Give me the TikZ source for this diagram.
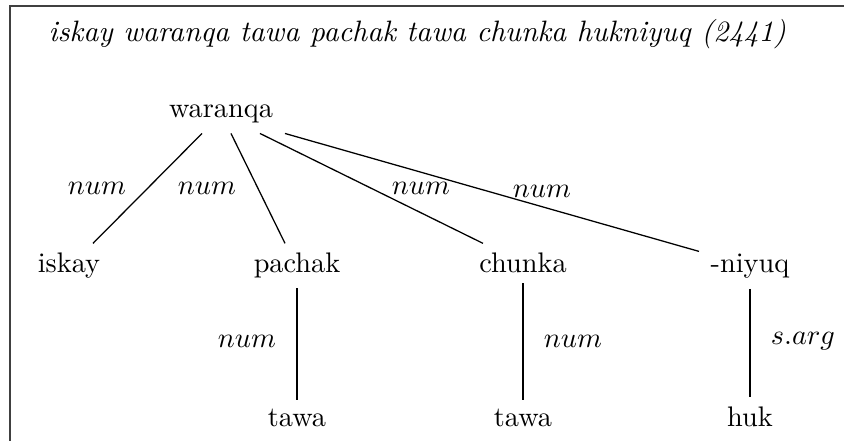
\documentclass[tikz,border=0pt]{standalone}
\usetikzlibrary{positioning, calc}

\begin{document}
\begin{tikzpicture}[
  x=0.3534pt, y=-0.3534pt,
  word/.style={anchor=base, font=\normalsize},
  rel/.style={anchor=base},
  title/.style={anchor=base west, inner sep=0pt, font=\fontsize{10.43pt}{12pt}\selectfont\itshape},
  dep/.style={line width=0.45pt, black},
  frameline/.style={line width=0.6pt, black!75}
]
\useasboundingbox (0,0) rectangle (844,441);

%% ═══ FRAME + TITLE ═══
\draw[frameline] (844,6) -- (10,6) -- (10,441);
\node[title] (ttl) at (48,42) {iskay waranqa tawa pachak tawa chunka hukniyuq (2441)};

%% ═══ WORDS ═══
\node[word] (waranqa) at (221,118) {waranqa};
\node[word] (iskay)   at (69,273)  {iskay};
\node[word] (pachak)  at (297,273) {pachak};
\node[word] (chunka)  at (523,273) {chunka};
\node[word] (niyuq)   at (750,273) {-niyuq};
\node[word] (tawaA)   at (297,427) {tawa};
\node[word] (tawaB)   at (523,427) {tawa};
\node[word] (huk)     at (750,427) {huk};

%% ═══ DEPENDENCIES ═══
\draw[dep] ($(waranqa.south)+(-19,0)$) -- ($(iskay.north)+(24,0)$);
\draw[dep] ($(waranqa.south)+(10,0)$)  -- ($(pachak.north)+(-12,0)$);
\draw[dep] ($(waranqa.south)+(39,0)$)  -- ($(chunka.north)+(-40,0)$);
\draw[dep] ($(waranqa.south)+(64,0)$)  -- ($(niyuq.north)+(-51,7)$);
\draw[dep] (pachak.south) -- (pachak.south |- tawaA.north);
\draw[dep] (chunka.south) -- (chunka.south |- tawaB.north);
\draw[dep] (niyuq.south)  -- (niyuq.south |- huk.north);

%% ═══ LABELS ═══
\node[rel] (lA) at (97,195)  {$num$};
\node[rel] (lB) at (207,195) {$num$};
\node[rel] (lC) at (421,195) {$num$};
\node[rel] (lD) at (542,198) {$num$};
\node[rel] (lE) at (247,348) {$num$};
\node[rel] (lF) at (573,348) {$num$};
\node[rel] (lG) at (803,345) {$s.arg$};

\end{tikzpicture}
\end{document}
